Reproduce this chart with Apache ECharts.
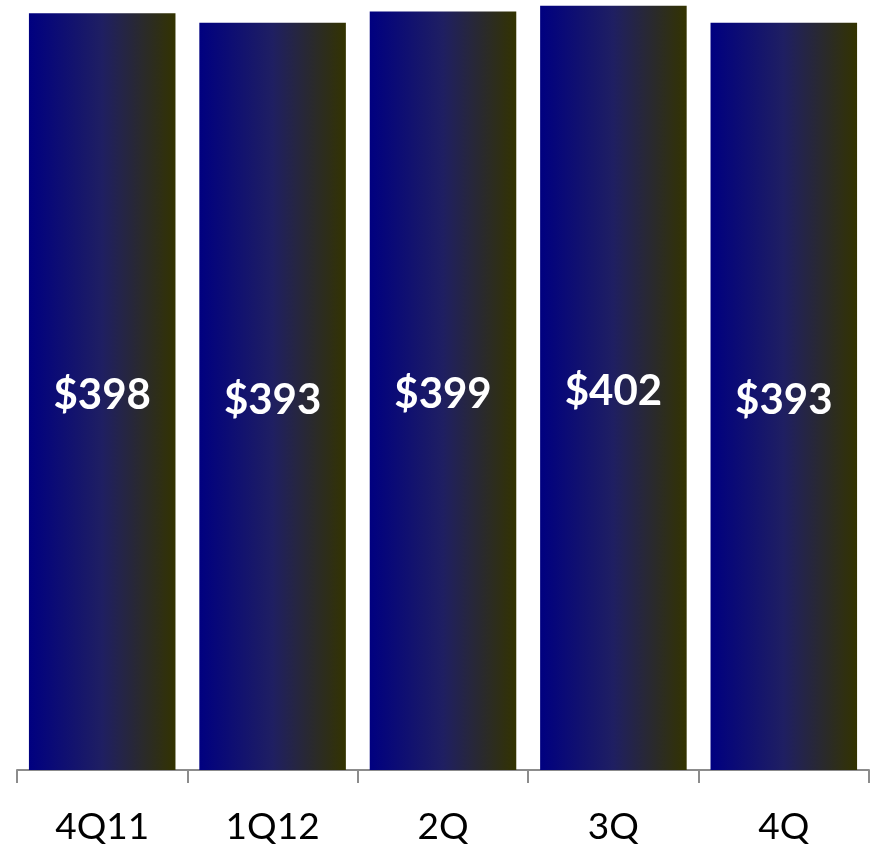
<!DOCTYPE html>
<html>
<head>
<meta charset="utf-8">
<style>
  html, body { margin: 0; padding: 0; background: #ffffff; }
  #chart { width: 880px; height: 847px; }
</style>
<script src="https://cdn.jsdelivr.net/npm/echarts@6/dist/echarts.min.js"></script>
</head>
<body>
<div id="chart"></div>
<script>
// Quarterly values (in $)
const quarters = ['4Q11', '1Q12', '2Q', '3Q', '4Q'];
const values = [398, 393, 399, 402, 393];

const chart = echarts.init(document.getElementById('chart'), null, { renderer: 'canvas' });

// Horizontal navy-to-olive fill used on every bar
const barFill = new echarts.graphic.LinearGradient(0, 0, 1, 0, [
  { offset: 0, color: '#000080' },
  { offset: 0.5, color: '#1f1f62' },
  { offset: 1, color: '#333300' }
]);

chart.setOption({
  animation: false,
  grid: { left: 17, right: 11, top: 0, bottom: 77, containLabel: false },
  xAxis: {
    type: 'category',
    data: quarters,
    axisLine: { show: true, lineStyle: { color: '#8c8c8c', width: 2 } },
    axisTick: { show: true, alignWithLabel: false, length: 13, lineStyle: { color: '#8c8c8c', width: 2 } },
    axisLabel: {
      color: '#000000',
      fontFamily: 'Lato, "Open Sans", sans-serif',
      fontSize: 37,
      margin: 39
    }
  },
  yAxis: {
    type: 'value',
    min: 0,
    max: 405,
    show: false,
    splitLine: { show: false }
  },
  series: [{
    type: 'bar',
    data: values,
    barWidth: '86%',
    itemStyle: { color: barFill },
    label: {
      show: true,
      position: 'inside',
      offset: [0, 4],
      formatter: p => '$' + p.value,
      color: '#ffffff',
      fontFamily: 'Lato, "Open Sans", sans-serif',
      fontWeight: 'bold',
      fontSize: 42
    }
  }]
});
</script>
</body>
</html>
